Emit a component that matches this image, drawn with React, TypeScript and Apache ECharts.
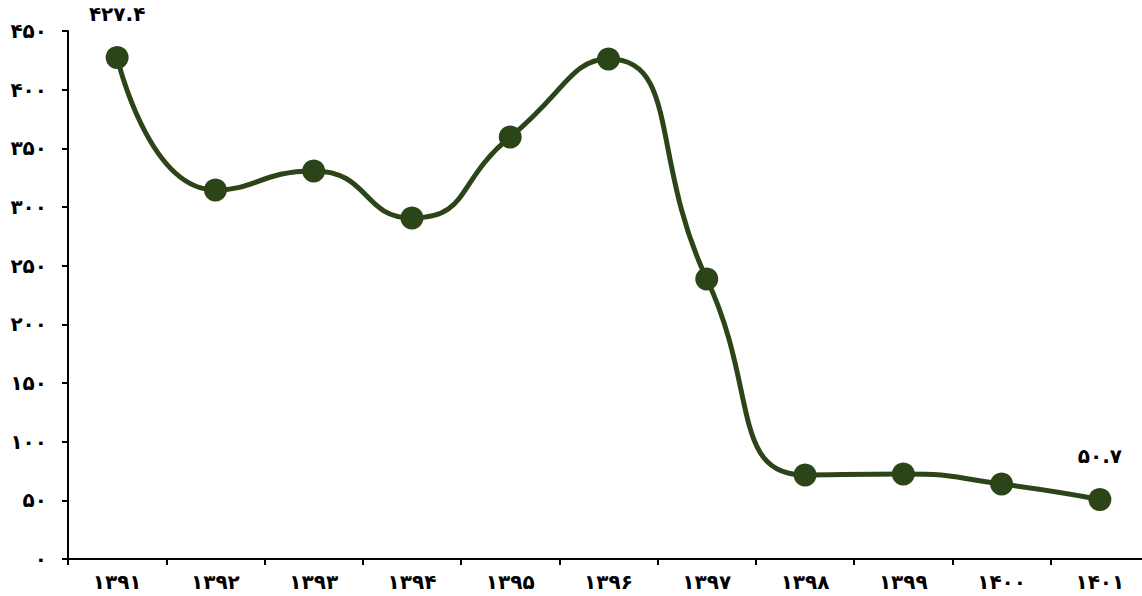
import React, { useEffect, useRef } from "react";
import * as echarts from "echarts";

const toFa = (s: string | number) =>
  String(s).replace(/[0-9]/g, (d) => "۰۱۲۳۴۵۶۷۸۹"[Number(d)]);

const years = ["1391", "1392", "1393", "1394", "1395", "1396", "1397", "1398", "1399", "1400", "1401"];
const values = [427.4, 314.5, 330.7, 290.6, 359.7, 426.1, 238.6, 71.6, 72.4, 63.9, 50.7];
const labeledIndices = [0, 10];

export default function App() {
  const ref = useRef<HTMLDivElement>(null);
  useEffect(() => {
    const chart = echarts.init(ref.current!, null, { renderer: "svg" });
    const font = "DejaVu Sans";
    chart.setOption({
      animation: false,
      backgroundColor: "#ffffff",
      grid: { left: 68, top: 31, width: 1081, height: 528, containLabel: false },
      xAxis: {
        type: "category",
        data: years,
        boundaryGap: true,
        axisLine: { lineStyle: { color: "#000", width: 2 } },
        axisTick: { show: true, length: 6, lineStyle: { color: "#000", width: 2 } },
        axisLabel: {
          formatter: (v: string) => toFa(v),
          color: "#000",
          fontFamily: font,
          fontWeight: "bold",
          fontSize: 20,
          margin: 13,
        },
      },
      yAxis: {
        type: "value",
        min: 0,
        max: 450,
        interval: 50,
        splitLine: { show: false },
        axisLine: { show: true, lineStyle: { color: "#000", width: 2 } },
        axisTick: { show: true, length: 6, lineStyle: { color: "#000", width: 2 } },
        axisLabel: {
          formatter: (v: number) => toFa(v),
          color: "#000",
          fontFamily: font,
          fontWeight: "bold",
          fontSize: 20,
          margin: 21,
        },
      },
      series: [
        {
          type: "line",
          data: values.map((v, i) => ({
            value: v,
            label: {
              show: labeledIndices.includes(i),
              position: "top",
              distance: 22,
              formatter: () => toFa(v.toFixed(1)),
              color: "#000",
              fontFamily: font,
              fontWeight: "bold",
              fontSize: 20,
            },
          })),
          smooth: 0.55,
          symbol: "circle",
          symbolSize: 23,
          lineStyle: { color: "#2b4519", width: 5 },
          itemStyle: { color: "#2b4519" },
        },
      ],
    });
    return () => chart.dispose();
  }, []);
  return (
    <div style={{ width: 1142, height: 596, position: "absolute", left: 0, top: 0, overflow: "hidden" }}>
      <div ref={ref} style={{ width: 1170, height: 596 }} />
    </div>
  );
}
